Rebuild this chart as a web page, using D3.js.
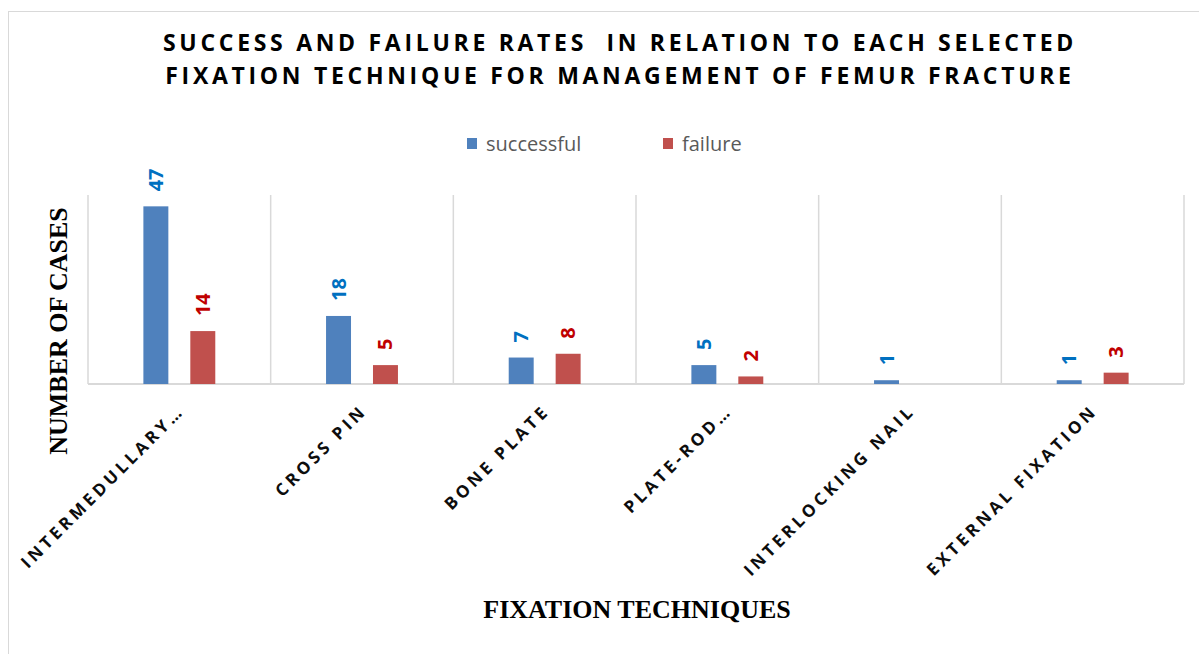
<!DOCTYPE html>
<html>
<head>
<meta charset="utf-8">
<script src="https://cdn.jsdelivr.net/npm/d3@7"></script>
<style>
  body { margin: 0; background: #fff; }
</style>
</head>
<body>
<div id="chart"></div>
<script>
// chart data
const categories = ["INTERMEDULLARY…", "CROSS PIN", "BONE PLATE", "PLATE-ROD…", "INTERLOCKING NAIL", "EXTERNAL FIXATION"];
const seriesNames = ["successful", "failure"];
const successful = [47, 18, 7, 5, 1, 1];
const failure = [14, 5, 8, 2, 0, 3];
const titleLines = ["SUCCESS AND FAILURE RATES  IN RELATION TO EACH SELECTED",
                    "FIXATION TECHNIQUE FOR MANAGEMENT OF FEMUR FRACTURE"];
const yTitle = "NUMBER OF CASES";
const xTitle = "FIXATION TECHNIQUES";

const barColors = ["#4F81BD", "#C0504D"];
const labelColors = ["#0070C0", "#C00000"];

const width = 1199, height = 654;
const plot = { left: 88, right: 1184, top: 195, bottom: 384 };

const svg = d3.select("#chart").append("svg")
  .attr("width", width)
  .attr("height", height)
  .style("font-family", "'Open Sans', 'Noto Sans', sans-serif");

// outer chart border
svg.append("rect")
  .attr("x", 8.5).attr("y", 11.5)
  .attr("width", width + 10).attr("height", height + 10)
  .attr("fill", "#fff")
  .attr("stroke", "#D9D9D9");

// title
svg.append("g").selectAll("text")
  .data(titleLines)
  .join("text")
  .attr("x", 620)
  .attr("y", (d, i) => 51 + i * 33)
  .attr("text-anchor", "middle")
  .attr("font-size", 23)
  .attr("font-weight", "bold")
  .attr("letter-spacing", 3.7)
  .attr("fill", "#000")
  .style("white-space", "pre")
  .text(d => d);

// legend
const legendX = [467, 663];
const legend = svg.append("g").selectAll("g")
  .data(seriesNames)
  .join("g")
  .attr("transform", (d, i) => `translate(${legendX[i]},138)`);
legend.append("rect")
  .attr("width", 10).attr("height", 11)
  .attr("fill", (d, i) => barColors[i]);
legend.append("text")
  .attr("x", 19).attr("y", 13)
  .attr("font-size", 20)
  .attr("fill", "#595959")
  .text(d => d);

// scales
const x0 = d3.scaleBand()
  .domain(categories)
  .range([plot.left, plot.right])
  .padding(0);

const x1 = d3.scaleBand()
  .domain(seriesNames)
  .range([0, x0.bandwidth()])
  .paddingInner(0.468)
  .paddingOuter(1.18);

const y = d3.scaleLinear()
  .domain([0, 50])
  .range([plot.bottom, plot.top]);

// vertical gridlines at category boundaries
const bounds = categories.map(c => x0(c)).concat([plot.right]);
svg.append("g").selectAll("line")
  .data(bounds)
  .join("line")
  .attr("x1", d => d).attr("x2", d => d)
  .attr("y1", plot.top).attr("y2", plot.bottom)
  .attr("stroke", "#D9D9D9")
  .attr("stroke-width", 1.5);

// baseline
svg.append("line")
  .attr("x1", plot.left).attr("x2", plot.right)
  .attr("y1", y(0)).attr("y2", y(0))
  .attr("stroke", "#D9D9D9")
  .attr("stroke-width", 2);

const rows = categories.map((c, i) => ({
  cat: c,
  vals: [successful[i], failure[i]]
}));

const groups = svg.append("g").selectAll("g")
  .data(rows)
  .join("g")
  .attr("transform", d => `translate(${x0(d.cat)},0)`);

groups.selectAll("rect")
  .data(d => d.vals.map((v, j) => ({ key: seriesNames[j], v: v, j: j })))
  .join("rect")
  .attr("x", d => x1(d.key))
  .attr("width", x1.bandwidth())
  .attr("y", d => y(d.v))
  .attr("height", d => y(0) - y(d.v))
  .attr("fill", d => barColors[d.j]);

// data labels, rotated
groups.selectAll("text.val")
  .data(d => d.vals.map((v, j) => ({ key: seriesNames[j], v: v, j: j })).filter(d => d.v > 0))
  .join("text")
  .attr("class", "val")
  .attr("transform", d => `translate(${x1(d.key) + x1.bandwidth() / 2 + 7},${y(d.v) - 15}) rotate(-90)`)
  .attr("font-size", 20)
  .attr("font-weight", "bold")
  .attr("fill", d => labelColors[d.j])
  .text(d => d.v);

// category labels
svg.append("g").selectAll("text")
  .data(categories)
  .join("text")
  .attr("transform", d => `translate(${x0(d) + x0.bandwidth() / 2 + 6},${412}) rotate(-45)`)
  .attr("text-anchor", "end")
  .attr("font-size", 17)
  .attr("font-weight", "bold")
  .attr("letter-spacing", 3.6)
  .attr("fill", "#0d0d0d")
  .text(d => d);

// axis titles
svg.append("text")
  .attr("transform", `translate(67,331) rotate(-90)`)
  .attr("text-anchor", "middle")
  .attr("font-family", "'Liberation Serif', 'Times New Roman', serif")
  .attr("font-size", 26)
  .attr("font-weight", "bold")
  .attr("fill", "#000")
  .text(yTitle);

svg.append("text")
  .attr("x", 637).attr("y", 618)
  .attr("text-anchor", "middle")
  .attr("font-family", "'Liberation Serif', 'Times New Roman', serif")
  .attr("font-size", 26)
  .attr("font-weight", "bold")
  .attr("fill", "#000")
  .text(xTitle);
</script>
</body>
</html>
